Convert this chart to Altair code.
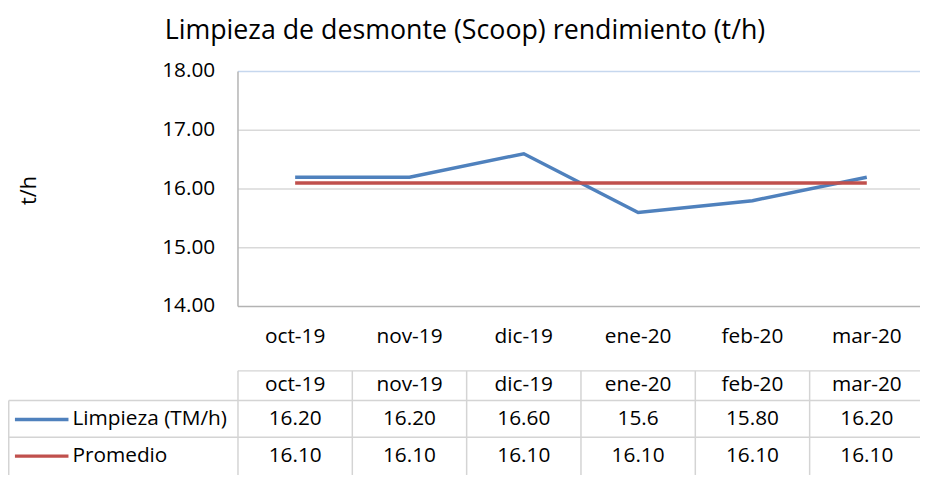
import altair as alt
import pandas as pd

# ---------------- data ----------------
cats = ["oct-19", "nov-19", "dic-19", "ene-20", "feb-20", "mar-20"]
limpieza = [16.20, 16.20, 16.60, 15.60, 15.80, 16.20]
promedio = [16.10, 16.10, 16.10, 16.10, 16.10, 16.10]
limpieza_txt = ["16.20", "16.20", "16.60", "15.6", "15.80", "16.20"]
promedio_txt = ["16.10", "16.10", "16.10", "16.10", "16.10", "16.10"]
series_names = ["Limpieza (TM/h)", "Promedio"]
series_colors = ["#4f81bd", "#c0504d"]
y_ticks = [14, 15, 16, 17, 18]
y_tick_labels = ["14.00", "15.00", "16.00", "17.00", "18.00"]
title_text = "Limpieza de desmonte (Scoop) rendimiento (t/h)"
y_title = "t/h"

# ---------------- layout ----------------
W, H = 920, 469
PL, PR, PT, PB = 232, 924, 62, 299
FONT = "Open Sans"
FS = 21
TXT = "#000000"
GRID = "#d9d9d9"
AXIS = "#b3b3b3"
TOPGRID = "#c6d7ee"
TAB = "#d4d4d4"
HDR_TOP, ROW1_TOP, ROW2_TOP = 364, 394, 431
HDR_Y, ROW1_Y, ROW2_Y = 378, 413, 450

xscale = alt.Scale(type="band", domain=cats, range=[PL, PR], paddingInner=0, paddingOuter=0)
yscale = alt.Scale(domain=[14, 18], range=[PB, PT], zero=False, nice=False)

def X(band=0.5):
    return alt.X("cat:N", scale=xscale, axis=None, bandPosition=band)

df_l = pd.DataFrame({"cat": cats, "value": limpieza, "txt": limpieza_txt})
df_p = pd.DataFrame({"cat": cats, "value": promedio, "txt": promedio_txt})
df_cat = pd.DataFrame({"cat": cats})
grid_colors = [AXIS, GRID, GRID, GRID, TOPGRID]
df_grid = pd.DataFrame({"v": y_ticks, "lab": y_tick_labels, "c": grid_colors})

grid = alt.Chart(df_grid).mark_rule(strokeWidth=1.5).encode(
    y=alt.Y("v:Q", scale=yscale, axis=None),
    x=alt.value(PL), x2=alt.value(W),
    color=alt.Color("c:N", scale=None),
)
left_axis = alt.Chart(pd.DataFrame({"a": [18], "b": [14]})).mark_rule(
    strokeWidth=1.5, color=AXIS
).encode(
    x=alt.value(PL),
    y=alt.Y("a:Q", scale=yscale, axis=None),
    y2="b:Q",
)
ylabels = alt.Chart(df_grid).mark_text(
    align="right", baseline="middle", font=FONT, fontSize=FS, color=TXT
).encode(
    y=alt.Y("v:Q", scale=yscale, axis=None),
    x=alt.value(209),
    text="lab:N",
)

line_l = alt.Chart(df_l).mark_line(strokeWidth=3.5, color=series_colors[0]).encode(
    x=X(), y=alt.Y("value:Q", scale=yscale, axis=None)
)
line_p = alt.Chart(df_p).mark_line(strokeWidth=3.5, color=series_colors[1]).encode(
    x=X(), y=alt.Y("value:Q", scale=yscale, axis=None)
)

xlabels = alt.Chart(df_cat).mark_text(
    baseline="middle", font=FONT, fontSize=FS, color=TXT
).encode(x=X(), y=alt.value(330), text="cat:N")

title = alt.Chart(pd.DataFrame({"t": [title_text]})).mark_text(
    baseline="alphabetic", font=FONT, fontSize=27, color=TXT
).encode(x=alt.value(461), y=alt.value(29), text="t:N")

ytitle = alt.Chart(pd.DataFrame({"t": [y_title]})).mark_text(
    baseline="middle", font=FONT, fontSize=22, color=TXT, angle=270
).encode(x=alt.value(21), y=alt.value(182), text="t:N")

# ---------------- data table ----------------
hdr = alt.Chart(df_cat).mark_text(
    baseline="middle", font=FONT, fontSize=FS, color=TXT
).encode(x=X(), y=alt.value(HDR_Y), text="cat:N")
row1 = alt.Chart(df_l).mark_text(
    baseline="middle", font=FONT, fontSize=FS, color=TXT
).encode(x=X(), y=alt.value(ROW1_Y), text="txt:N")
row2 = alt.Chart(df_p).mark_text(
    baseline="middle", font=FONT, fontSize=FS, color=TXT
).encode(x=X(), y=alt.value(ROW2_Y), text="txt:N")

vlines = alt.Chart(df_cat).mark_rule(strokeWidth=1.5, color=TAB).encode(
    x=X(0), y=alt.value(HDR_TOP), y2=alt.value(H)
)
hline_top = alt.Chart(df_cat.head(1)).mark_rule(strokeWidth=1.5, color=TAB).encode(
    x=alt.value(PL), x2=alt.value(W), y=alt.value(HDR_TOP)
)
hline_r1 = alt.Chart(df_cat.head(1)).mark_rule(strokeWidth=1.5, color=TAB).encode(
    x=alt.value(0.75), x2=alt.value(W), y=alt.value(ROW1_TOP)
)
hline_r2 = alt.Chart(df_cat.head(1)).mark_rule(strokeWidth=1.5, color=TAB).encode(
    x=alt.value(0.75), x2=alt.value(W), y=alt.value(ROW2_TOP)
)
vline_left = alt.Chart(df_cat.head(1)).mark_rule(strokeWidth=1.5, color=TAB).encode(
    x=alt.value(0.75), y=alt.value(ROW1_TOP), y2=alt.value(H)
)

df_leg = pd.DataFrame({"name": series_names, "col": series_colors, "yy": [ROW1_Y, ROW2_Y]})
leg_lines = alt.Chart(df_leg).mark_rule(strokeWidth=3.5).encode(
    x=alt.value(7), x2=alt.value(61),
    y=alt.Y("yy:Q", scale=None),
    color=alt.Color("col:N", scale=None),
)
leg_text = alt.Chart(df_leg).mark_text(
    align="left", baseline="middle", font=FONT, fontSize=FS, color=TXT
).encode(x=alt.value(65), y=alt.Y("yy:Q", scale=None), text="name:N")

chart = alt.layer(
    grid, left_axis, ylabels, line_l, line_p, xlabels, title, ytitle,
    vlines, hline_top, hline_r1, hline_r2, vline_left, hdr, row1, row2,
    leg_lines, leg_text,
).properties(
    width=W, height=H, padding=0,
    autosize=alt.AutoSizeParams(type="none"),
    background="white",
).configure_view(stroke=None)

chart.save("out.html", embed_options={"renderer": "svg", "actions": False})
